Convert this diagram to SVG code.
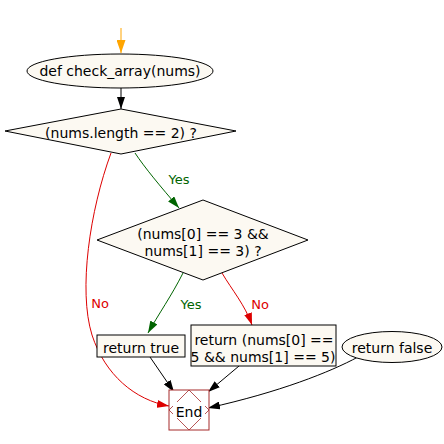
<svg xmlns="http://www.w3.org/2000/svg" width="444" height="444" viewBox="0 0 444 444">
<style>
text{font-family:"DejaVu Sans","Liberation Sans",sans-serif;font-size:14px;fill:#000;text-anchor:middle}
.lbl{font-size:13px}
.node{fill:#fcf9f2;stroke:#000;stroke-width:1}
.c{fill:none;stroke-width:1}
</style>
<defs>
<marker id="ak" markerUnits="userSpaceOnUse" markerWidth="12" markerHeight="8" refX="12" refY="4" orient="auto"><path d="M0,0 L12,4 L0,8 z" fill="#000"/></marker>
<marker id="ag" markerUnits="userSpaceOnUse" markerWidth="12" markerHeight="8" refX="12" refY="4" orient="auto"><path d="M0,0 L12,4 L0,8 z" fill="#006400"/></marker>
<marker id="ar" markerUnits="userSpaceOnUse" markerWidth="12" markerHeight="8" refX="12" refY="4" orient="auto"><path d="M0,0 L12,4 L0,8 z" fill="#dd0000"/></marker>
<marker id="ao" markerUnits="userSpaceOnUse" markerWidth="13" markerHeight="9" refX="13" refY="4.5" orient="auto"><path d="M0,0 L13,4.5 L0,9 z" fill="#ffa500"/></marker>
</defs>
<rect width="444" height="444" fill="#fff"/>
<g id="connectors">
<line class="c" x1="121" y1="28" x2="121" y2="53" stroke="#ffa500" marker-end="url(#ao)"/>
<line class="c" x1="121" y1="88" x2="121" y2="109" stroke="#000" marker-end="url(#ak)"/>
<path class="c" d="M135,153 C145,168 160,186 179,208" stroke="#006400" marker-end="url(#ag)"/>
<text class="lbl" x="179" y="184" style="fill:#006400">Yes</text>
<path class="c" d="M111,153 C90,210 78,290 92,335 C105,375 135,400 169,406" stroke="#dd0000" marker-end="url(#ar)"/>
<text class="lbl" x="100" y="308" style="fill:#dd0000">No</text>
<path class="c" d="M183,273 C172,295 158,315 148,333" stroke="#006400" marker-end="url(#ag)"/>
<text class="lbl" x="191" y="309" style="fill:#006400">Yes</text>
<path class="c" d="M222,273 C232,290 245,305 252,325" stroke="#dd0000" marker-end="url(#ar)"/>
<text class="lbl" x="260" y="309" style="fill:#dd0000">No</text>
<line class="c" x1="150" y1="357" x2="174" y2="392" stroke="#000" marker-end="url(#ak)"/>
<line class="c" x1="239" y1="366" x2="208" y2="392" stroke="#000" marker-end="url(#ak)"/>
<path class="c" d="M358,357 C330,372 280,392 208,408" stroke="#000" marker-end="url(#ak)"/>
</g>
<g id="start">
<ellipse class="node" cx="120" cy="71" rx="93" ry="17"/>
<text x="120" y="76">def check_array(nums)</text>
</g>
<g id="cond1">
<polygon class="node" points="121,109 236,131 121,154 5,131"/>
<text x="121" y="138">(nums.length == 2) ?</text>
</g>
<g id="cond2">
<polygon class="node" points="203,200 308,240 203,280 97,240"/>
<text x="203" y="239">(nums[0] == 3 &amp;&amp;</text>
<text x="203" y="256">nums[1] == 3) ?</text>
</g>
<g id="retTrue">
<rect class="node" x="97" y="335" width="88" height="22"/>
<text x="141" y="353">return true</text>
</g>
<g id="retExpr">
<rect class="node" x="191" y="325" width="145" height="41"/>
<text x="264" y="345">return (nums[0] ==</text>
<text x="263" y="362">5 &amp;&amp; nums[1] == 5)</text>
</g>
<g id="retFalse">
<ellipse class="node" cx="392" cy="347" rx="50" ry="15.5"/>
<text x="392" y="353">return false</text>
</g>
<g id="end">
<rect x="169" y="390" width="40" height="40" fill="#fff" stroke="#a52a2a"/>
<polygon points="189,390 209,410 189,430 169,410" fill="none" stroke="#a52a2a" stroke-width="0.8"/>
<rect x="173" y="402" width="32" height="16" fill="#fff"/>
<text x="189" y="417">End</text>
</g>
</svg>
